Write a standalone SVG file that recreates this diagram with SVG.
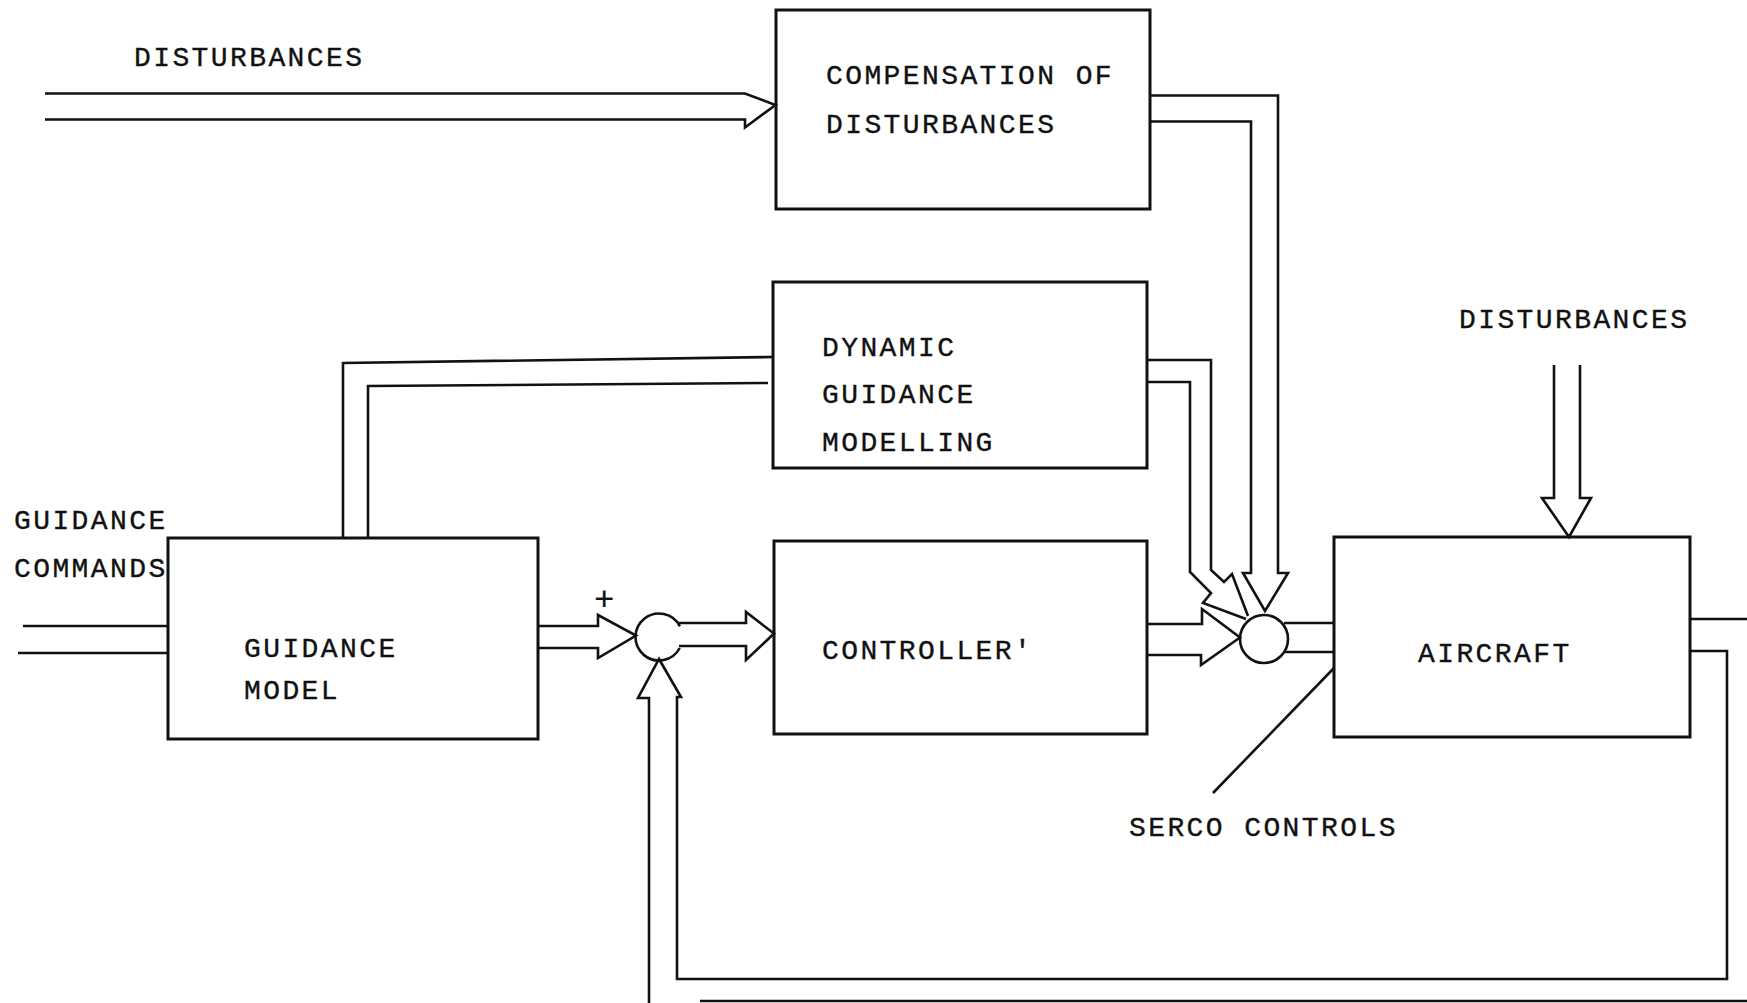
<svg xmlns="http://www.w3.org/2000/svg" width="1747" height="1003" viewBox="0 0 1747 1003">
<style>
.box{fill:none;stroke:#111;stroke-width:3}
.c{fill:none;stroke:#111;stroke-width:2.6;stroke-linejoin:miter}
.t{font-family:"Liberation Mono","DejaVu Sans Mono",monospace;font-size:28px;letter-spacing:2.4px;fill:#111;stroke:#111;stroke-width:0.35}
</style>
<rect width="1747" height="1003" fill="#fff"/>
<g id="labels">
<text class="t" x="134" y="66">DISTURBANCES</text>
<text class="t" x="14" y="529">GUIDANCE</text>
<text class="t" x="14" y="577">COMMANDS</text>
<text class="t" x="1459" y="328">DISTURBANCES</text>
<text class="t" x="1129" y="836">SERCO CONTROLS</text>
<text class="t" x="594" y="610" style="font-size:34px;stroke-width:0.2">+</text>
</g>
<g id="compensation">
<rect class="box" x="776" y="10" width="374" height="199"/>
<text class="t" x="826" y="84">COMPENSATION OF</text>
<text class="t" x="826" y="133">DISTURBANCES</text>
</g>
<g id="dynamic-guidance-modelling">
<rect class="box" x="773" y="282" width="374" height="186"/>
<text class="t" x="822" y="356">DYNAMIC</text>
<text class="t" x="822" y="403">GUIDANCE</text>
<text class="t" x="822" y="451">MODELLING</text>
</g>
<g id="guidance-model">
<rect class="box" x="168" y="538" width="370" height="201"/>
<text class="t" x="244" y="657">GUIDANCE</text>
<text class="t" x="244" y="699">MODEL</text>
</g>
<g id="controller">
<rect class="box" x="774" y="541" width="373" height="193"/>
<text class="t" x="822" y="659">CONTROLLER′</text>
</g>
<g id="aircraft">
<rect class="box" x="1334" y="537" width="356" height="200"/>
<text class="t" x="1418" y="662">AIRCRAFT</text>
</g>
<g id="sum1">
<path class="c" d="M679.9 626.3 A23.5 23.5 0 1 0 679.75 648"/>
</g>
<g id="sum2">
<circle class="c" cx="1264" cy="639" r="24"/>
</g>
<g id="connectors">
<path class="c" d="M45 93.5 H745 L775.5 105 L745 127.5 V119.5 H45"/>
<path class="c" d="M1150 95.5 H1278 V573 H1288 L1265 611 L1243 573 H1251 V121.5 H1150"/>
<path class="c" d="M1147 360 H1211 V570 L1224 582 L1232 574 L1248 616"/>
<path class="c" d="M1147 382 H1190 V572 L1211 593 L1203 603 L1246 619"/>
<path class="c" d="M343 538 V363 L773 357"/>
<path class="c" d="M368 538 V386 L768 383"/>
<path class="c" d="M23 626 H168 M18 653 H168"/>
<path class="c" d="M538 626 H598 V615 L636 635.5 L598 658 V648 H538"/>
<path class="c" d="M678 623 H746 V612 L774 633.5 L746 660 V646 H679"/>
<path class="c" d="M1147 624 H1202 V609 L1240 637.5 L1201 665 V655 H1147"/>
<path class="c" d="M1284 623 H1334 M1285 652 H1334"/>
<path class="c" d="M1554 365 V498 H1542 L1569 537 L1591 498 H1580 V365"/>
<path class="c" d="M1690 619 H1747"/>
<path class="c" d="M1690 651 H1727 V979 H677 V697 H681 L659 659 L638 698 H649 V1003"/>
<path class="c" d="M700 1001 H1747" stroke-width="2"/>
<path class="c" d="M1213 793 L1334 668" stroke-width="2"/>
</g>
</svg>
